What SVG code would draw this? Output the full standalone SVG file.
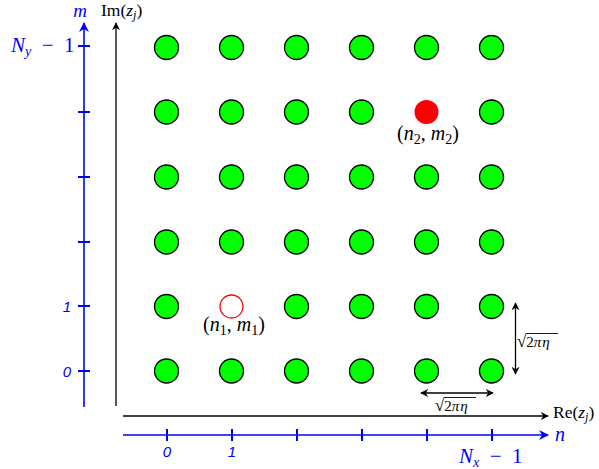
<svg xmlns="http://www.w3.org/2000/svg" width="599" height="469" viewBox="0 0 599 469">
<defs>
<style>
.dot{fill:#00ff00;stroke:#000;stroke-width:1.3}
.ax{stroke:#000;stroke-width:1.3;fill:none}
.bx{stroke:#0000ff;stroke-width:1.6;fill:none}
.tk{stroke:#0000ff;stroke-width:2}
.m{font-family:"Liberation Serif",serif;fill:#000}
.bl{font-family:"Liberation Serif",serif;fill:#0000ff}
.bs{font-family:"Liberation Sans",sans-serif;font-style:italic;fill:#0000ff;font-size:15px}
.i{font-style:italic}
</style>
<marker id="ak" viewBox="0 0 10 10" refX="9" refY="5" markerWidth="8" markerHeight="8" markerUnits="userSpaceOnUse" orient="auto-start-reverse">
<path d="M0,0 L10,5 L0,10 L3,5 Z" fill="#000"/>
</marker>
<marker id="ab" viewBox="0 0 10 10" refX="9" refY="5" markerWidth="10" markerHeight="10" markerUnits="userSpaceOnUse" orient="auto-start-reverse">
<path d="M0,0 L10,5 L0,10 L3,5 Z" fill="#0000ff"/>
</marker>
</defs>
<rect width="599" height="469" fill="#fff"/>
<g id="connectors">
<line class="bx" x1="84" y1="407" x2="84" y2="23" marker-end="url(#ab)"/>
<line class="ax" x1="116" y1="406" x2="116" y2="23" marker-end="url(#ak)"/>
<line class="ax" x1="123" y1="416" x2="548" y2="416" marker-end="url(#ak)"/>
<line class="bx" x1="123" y1="435" x2="548" y2="435" marker-end="url(#ab)"/>
<g class="tk">
<line x1="78" y1="46" x2="90" y2="46"/>
<line x1="78" y1="112" x2="90" y2="112"/>
<line x1="78" y1="177" x2="90" y2="177"/>
<line x1="78" y1="242" x2="90" y2="242"/>
<line x1="78" y1="306" x2="90" y2="306"/>
<line x1="78" y1="371" x2="90" y2="371"/>
<line x1="167" y1="429" x2="167" y2="441"/>
<line x1="232" y1="429" x2="232" y2="441"/>
<line x1="297" y1="429" x2="297" y2="441"/>
<line x1="362" y1="429" x2="362" y2="441"/>
<line x1="427" y1="429" x2="427" y2="441"/>
<line x1="492" y1="429" x2="492" y2="441"/>
</g>
<line class="ax" x1="515.5" y1="303" x2="515.5" y2="374" marker-start="url(#ak)" marker-end="url(#ak)"/>
<line class="ax" x1="421" y1="393" x2="493" y2="393" marker-start="url(#ak)" marker-end="url(#ak)"/>
</g>
<g id="labels">
<text class="bl i" x="80" y="17" font-size="19" text-anchor="middle">m</text>
<text class="m" x="101" y="16" font-size="17.5">Im(<tspan class="i">z</tspan><tspan class="i" font-size="12" dy="3">j</tspan><tspan dy="-3">)</tspan></text>
<text class="bl" x="11" y="52" font-size="21"><tspan class="i">N</tspan><tspan class="i" font-size="14" dy="4">y</tspan><tspan dy="-4" xml:space="preserve">  −  1</tspan></text>
<text class="bs" x="67" y="312" text-anchor="middle">1</text>
<text class="bs" x="67" y="377" text-anchor="middle">0</text>
<text class="bs" x="167" y="457" text-anchor="middle">0</text>
<text class="bs" x="232" y="457" text-anchor="middle">1</text>
<text class="bl" x="459" y="463" font-size="21"><tspan class="i">N</tspan><tspan class="i" font-size="14" dy="4">x</tspan><tspan dy="-4" xml:space="preserve">  −  1</tspan></text>
<text class="bl i" x="555" y="441" font-size="20">n</text>
<text class="m" x="553" y="418" font-size="17.5">Re(<tspan class="i">z</tspan><tspan class="i" font-size="12" dy="3">j</tspan><tspan dy="-3">)</tspan></text>
<text class="m" x="428" y="140" font-size="20" text-anchor="middle" xml:space="preserve">(<tspan class="i">n</tspan><tspan font-size="14" dy="4">2</tspan><tspan dy="-4">, </tspan><tspan class="i">m</tspan><tspan font-size="14" dy="4">2</tspan><tspan dy="-4">)</tspan></text>
<text class="m" x="234" y="331" font-size="20" text-anchor="middle" xml:space="preserve">(<tspan class="i">n</tspan><tspan font-size="14" dy="4">1</tspan><tspan dy="-4">, </tspan><tspan class="i">m</tspan><tspan font-size="14" dy="4">1</tspan><tspan dy="-4">)</tspan></text>
<text class="m" x="517" y="347" font-size="15"><tspan font-size="17">√</tspan><tspan>2</tspan><tspan class="i" letter-spacing="1">πη</tspan></text>
<line x1="526" y1="333.5" x2="558" y2="333.5" stroke="#000" stroke-width="0.9"/>
<text class="m" x="435" y="411" font-size="15"><tspan font-size="17">√</tspan><tspan>2</tspan><tspan class="i" letter-spacing="1">πη</tspan></text>
<line x1="444" y1="397.5" x2="476" y2="397.5" stroke="#000" stroke-width="0.9"/>
</g>
<g id="nodes">
<g id="r0"><circle class="dot" cx="166.5" cy="47.5" r="12"/><circle class="dot" cx="231.5" cy="47.5" r="12"/><circle class="dot" cx="296.5" cy="47.5" r="12"/><circle class="dot" cx="361.5" cy="47.5" r="12"/><circle class="dot" cx="426.5" cy="47.5" r="12"/><circle class="dot" cx="491.5" cy="47.5" r="12"/></g>
<g id="r1"><circle class="dot" cx="166.5" cy="112" r="12"/><circle class="dot" cx="231.5" cy="112" r="12"/><circle class="dot" cx="296.5" cy="112" r="12"/><circle class="dot" cx="361.5" cy="112" r="12"/><circle cx="426.5" cy="112" r="12" fill="#ff0000"/><circle class="dot" cx="491.5" cy="112" r="12"/></g>
<g id="r2"><circle class="dot" cx="166.5" cy="177" r="12"/><circle class="dot" cx="231.5" cy="177" r="12"/><circle class="dot" cx="296.5" cy="177" r="12"/><circle class="dot" cx="361.5" cy="177" r="12"/><circle class="dot" cx="426.5" cy="177" r="12"/><circle class="dot" cx="491.5" cy="177" r="12"/></g>
<g id="r3"><circle class="dot" cx="166.5" cy="242" r="12"/><circle class="dot" cx="231.5" cy="242" r="12"/><circle class="dot" cx="296.5" cy="242" r="12"/><circle class="dot" cx="361.5" cy="242" r="12"/><circle class="dot" cx="426.5" cy="242" r="12"/><circle class="dot" cx="491.5" cy="242" r="12"/></g>
<g id="r4"><circle class="dot" cx="166.5" cy="306.5" r="12"/><circle cx="231.5" cy="306.5" r="11.5" fill="#fff" stroke="#ff0000" stroke-width="1.3"/><circle class="dot" cx="296.5" cy="306.5" r="12"/><circle class="dot" cx="361.5" cy="306.5" r="12"/><circle class="dot" cx="426.5" cy="306.5" r="12"/><circle class="dot" cx="491.5" cy="306.5" r="12"/></g>
<g id="r5"><circle class="dot" cx="166.5" cy="371" r="12"/><circle class="dot" cx="231.5" cy="371" r="12"/><circle class="dot" cx="296.5" cy="371" r="12"/><circle class="dot" cx="361.5" cy="371" r="12"/><circle class="dot" cx="426.5" cy="371" r="12"/><circle class="dot" cx="491.5" cy="371" r="12"/></g>
</g>
</svg>
